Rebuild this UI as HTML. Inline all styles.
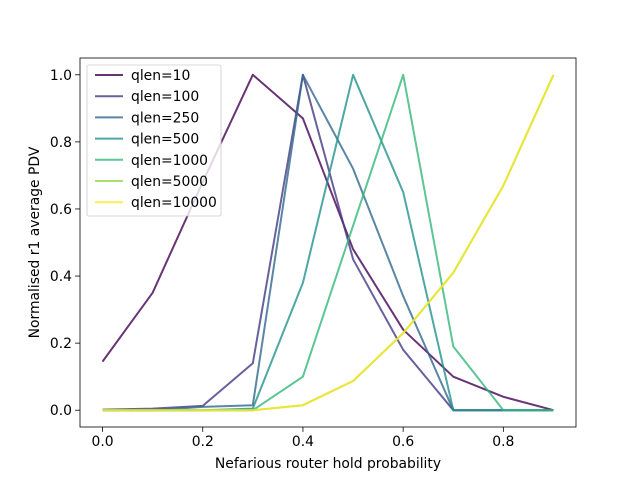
<!DOCTYPE html>
<html><head><meta charset="utf-8"><style>
body{margin:0;background:#fff}
svg{display:block;font-family:"DejaVu Sans","Liberation Sans",sans-serif}
</style></head><body>
<svg id="chart" width="640" height="480">
<rect width="640" height="480" fill="#fff"/>
</svg>
<script>
const xValues=[0,0.1,0.2,0.3,0.4,0.5,0.6,0.7,0.8,0.9];
const seriesNames=["qlen=10","qlen=100","qlen=250","qlen=500","qlen=1000","qlen=5000","qlen=10000"];
const q10=[0.145,0.35,0.68,1.0,0.87,0.48,0.24,0.1,0.04,0.0];
const q100=[0.002,0.005,0.013,0.14,1.0,0.45,0.18,0.0,0.0,0.0];
const q250=[0.0,0.0,0.01,0.015,1.0,0.72,0.34,0.0,0.0,0.0];
const q500=[0.0,0.0,0.0,0.005,0.38,1.0,0.65,0.0,0.0,0.0];
const q1000=[0.0,0.0,0.0,0.0,0.1,0.55,1.0,0.19,0.0,0.0];
const q5000=[0.0,0.0,0.0,0.0,0.015,0.087,0.23,0.41,0.67,1.0];
const q10000=[0.0,0.0,0.0,0.0,0.015,0.087,0.23,0.41,0.67,1.0];
const xTicks=[0,0.2,0.4,0.6,0.8];
const xTickLabels=["0.0","0.2","0.4","0.6","0.8"];
const yTicks=[0,0.2,0.4,0.6,0.8,1.0];
const yTickLabels=["0.0","0.2","0.4","0.6","0.8","1.0"];
const allSeries=[q10,q100,q250,q500,q1000,q5000,q10000];
const colors=["#440154","#443983","#31688e","#21918c","#35b779","#90d743","#fde725"];
const L=80,R=576,T=58,B=427;
const xmin=-0.045,xmax=0.945,ymin=-0.05,ymax=1.05;
const sx=v=>L+(v-xmin)/(xmax-xmin)*(R-L);
const sy=v=>B-(v-ymin)/(ymax-ymin)*(B-T);
const svg=document.getElementById('chart');
const NS="http://www.w3.org/2000/svg";
const FS=13.9;
function mk(t,a,p){const e=document.createElementNS(NS,t);for(const k in a)e.setAttribute(k,a[k]);(p||svg).appendChild(e);return e;}
allSeries.forEach((s,i)=>{
 const d=s.map((v,j)=>(j?'L':'M')+sx(xValues[j]).toFixed(1)+','+sy(v).toFixed(1)).join('');
 const p=mk('path',{d:d,fill:'none',stroke:colors[i],'stroke-width':2,'stroke-opacity':0.8,'stroke-linejoin':'round'});
 
 
});
const frame=mk('rect',{x:L,y:T,width:R-L,height:B-T,fill:'none',stroke:'#000','stroke-width':0.8});


xTicks.forEach((v,i)=>{
 mk('line',{x1:sx(v),x2:sx(v),y1:B,y2:B+4.9,stroke:'#000','stroke-width':0.8});
 const t=mk('text',{x:sx(v),y:B+19,'text-anchor':'middle','font-size':FS});t.textContent=xTickLabels[i];
 
 
});
yTicks.forEach((v,i)=>{
 mk('line',{x1:L-4.9,x2:L,y1:sy(v),y2:sy(v),stroke:'#000','stroke-width':0.8});
 const t=mk('text',{x:L-8,y:sy(v)+5,'text-anchor':'end','font-size':FS});t.textContent=yTickLabels[i];
 
 
});
const xt=mk('text',{x:(L+R)/2,y:468,'text-anchor':'middle','font-size':FS});xt.textContent="Nefarious router hold probability";


const yt=mk('text',{x:0,y:0,'text-anchor':'middle','font-size':FS,transform:`translate(39,${(T+B)/2}) rotate(-90)`});yt.textContent="Normalised r1 average PDV";


const lg=mk('g',{});


mk('rect',{x:87,y:65,width:134,height:151,rx:2,fill:'#fff','fill-opacity':0.8,stroke:'#ccc','stroke-width':0.8},lg);
seriesNames.forEach((n,i)=>{
 const y=75+i*21.2;
 mk('line',{x1:95,x2:123,y1:y,y2:y,stroke:colors[i],'stroke-width':2,'stroke-opacity':0.8},lg);
 const t=mk('text',{x:131,y:y+5,'font-size':FS},lg);t.textContent=n;
 
 
});
</script>
</body></html>
